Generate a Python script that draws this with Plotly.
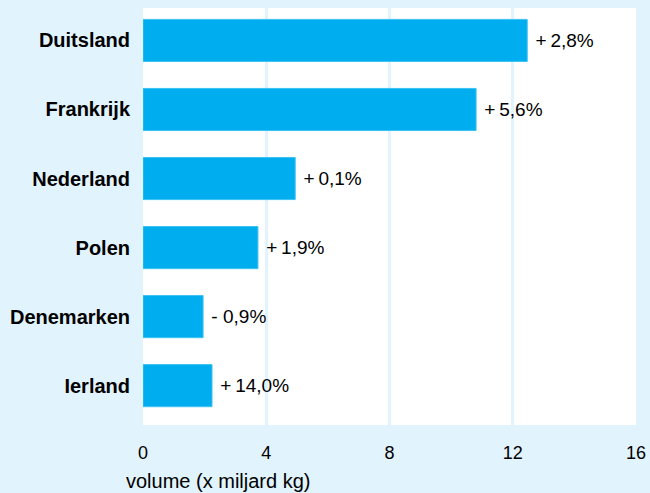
import plotly.graph_objects as go

# Melkproductie per land (x miljard kg) en verandering t.o.v. vorig jaar
landen = ["Duitsland", "Frankrijk", "Nederland", "Polen", "Denemarken", "Ierland"]
volume = [12.47, 10.81, 4.94, 3.73, 1.95, 2.24]
verandering = ["+\u20092,8%", "+\u20095,6%", "+\u20090,1%", "+\u20091,9%", "- 0,9%", "+\u200914,0%"]
x_ticks = [0, 4, 8, 12, 16]

bg = "#E1F3FD"
bar_blue = "#00AEEF"
font = "Liberation Sans, Arial, sans-serif"

fig = go.Figure(go.Bar(
    x=volume,
    y=landen,
    orientation="h",
    width=0.61,
    marker=dict(color=bar_blue, line=dict(color="#3CC2F3", width=1)),
    text=["\u00a0" + t for t in verandering],
    textposition="outside",
    cliponaxis=False,
    textfont=dict(family=font, size=19, color="black"),
))

fig.update_layout(
    width=650, height=493,
    margin=dict(l=143, r=14, t=8, b=68, autoexpand=False),
    paper_bgcolor=bg,
    plot_bgcolor="white",
    showlegend=False,
    font=dict(family=font, size=18, color="black"),
)

fig.update_xaxes(
    range=[0, 16],
    tickvals=x_ticks,
    showgrid=True, gridcolor=bg, gridwidth=3,
    zeroline=False,
    showline=False,
    ticks="",
    automargin=False,
    ticklabelstandoff=15,
    tickfont=dict(family=font, size=18, color="black"),
)

fig.update_yaxes(
    categoryorder="array", categoryarray=landen,
    range=[5.57, -0.47],
    showgrid=False, zeroline=False, showline=False,
    ticks="",
    automargin=False,
    ticklabelstandoff=12,
    tickfont=dict(family=font, size=20, color="black", weight="bold"),
)

fig.add_annotation(
    text="volume (x miljard kg)",
    x=(124 - 143) / (650 - 143 - 14), xref="paper", xanchor="left",
    y=(425 - 468) / (425 - 8), yref="paper", yanchor="top",
    showarrow=False,
    font=dict(family=font, size=20, color="black"),
)

# page margin off so the figure sits at the window's top-left corner
fig.write_html(
    "out.html",
    config={"displayModeBar": False},
    post_script="document.body.style.margin='0';document.body.style.background='%s';" % bg,
)
